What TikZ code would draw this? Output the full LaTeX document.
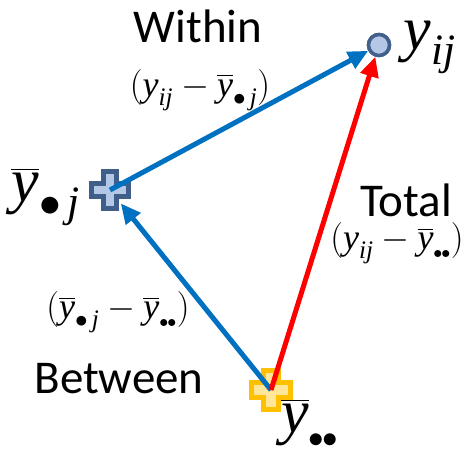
\RequirePackage{fix-cm}
\documentclass[tikz,border=0pt]{standalone}
\usepackage{amsmath}
\usepackage{fontspec}
\newfontfamily\tnr{Liberation Serif}
\newfontfamily\carl{Carlito}
\usetikzlibrary{arrows.meta}
\newcommand\Ty{\text{\tnr\itshape y}}
\newcommand\Tij{\text{\tnr\itshape ij}}
\newcommand\Tj{\text{\tnr\itshape j}}
\newcommand\dd{{\scriptscriptstyle\bullet\mkern-1mu\bullet}}
\newcommand\bd{{\scriptstyle\bullet}\,}
\definecolor{arrblue}{HTML}{0070C0}
\definecolor{arrred}{HTML}{FF0000}
\definecolor{pjdark}{HTML}{3F5F8A}
\definecolor{pjlight}{HTML}{B4C7E7}
\definecolor{podark}{HTML}{FFC000}
\definecolor{polight}{HTML}{FFE699}
\definecolor{cdark}{HTML}{41608C}
\newcommand\plusat[3]{\draw[#3] (#1) ++(-#2/2.7,-#2) -- ++(#2/1.35,0) -- ++(0,#2/1.6) -- ++(#2/1.6,0) -- ++(0,#2/1.35) -- ++(-#2/1.6,0) -- ++(0,#2/1.6) -- ++(-#2/1.35,0) -- ++(0,-#2/1.6) -- ++(-#2/1.6,0) -- ++(0,-#2/1.35) -- ++(#2/1.6,0) -- cycle;}
\begin{document}
\begin{tikzpicture}[x=1pt,y=-1pt,
  word/.style={font=\carl\fontsize{47}{54}\selectfont,inner sep=0pt,anchor=base},
  frm/.style={font=\fontsize{36}{42}\selectfont,inner sep=0pt,anchor=base},
  big/.style={font=\fontsize{62}{70}\selectfont,inner sep=0pt,anchor=base},
  arr/.style={line width=5pt,-{Triangle[length=20pt,width=18pt]}},
  hub/.style={circle,inner sep=0pt,minimum size=34pt}]
\useasboundingbox (0,0) rectangle (465,450);
\node[hub] (pj) at (110,190) {};
\node[hub] (po) at (271,390) {};
\node[circle,draw=cdark,fill=pjlight,line width=3.5pt,minimum size=21pt,inner sep=0pt] (yij) at (379,45) {};
\plusat{pj.center}{18.5}{draw=pjdark,fill=pjlight,line width=5pt,line join=miter}
\plusat{po.center}{20}{draw=podark,fill=polight,line width=5pt,line join=miter}
\draw[arr,draw=arrblue,fill=arrblue] (pj.center) -- (yij);
\draw[arr,draw=arrblue,fill=arrblue] (po.center) -- (pj);
\draw[arr,draw=arrred,fill=arrred] (po.center) -- (yij);
\node[circle,draw=cdark,fill=pjlight,line width=3.5pt,minimum size=21pt,inner sep=0pt] at (yij) {};
\node[word] (within) at (198,42) {Within};
\node[frm] (wf) at (200,96) {$(\Ty_{\Tij}-\overline{\Ty}_{\bd\Tj})$};
\node[big] (lyij) at (430,49) {$\Ty_{\Tij}$};
\node[big] (lybj) at (46,201) {$\overline{\Ty}_{\bullet\,\Tj}$};
\node[word] (total) at (406,216) {Total};
\node[frm] (tf) at (397,249) {$(\Ty_{\Tij}-\overline{\Ty}_{\dd})$};
\node[frm] (bf) at (118,318) {$(\overline{\Ty}_{\bd\Tj}-\overline{\Ty}_{\dd})$};
\node[word] (between) at (119,393) {Between};
\node[big] (lybb) at (310,432) {$\overline{\Ty}_{\dd}$};
\end{tikzpicture}
\end{document}
